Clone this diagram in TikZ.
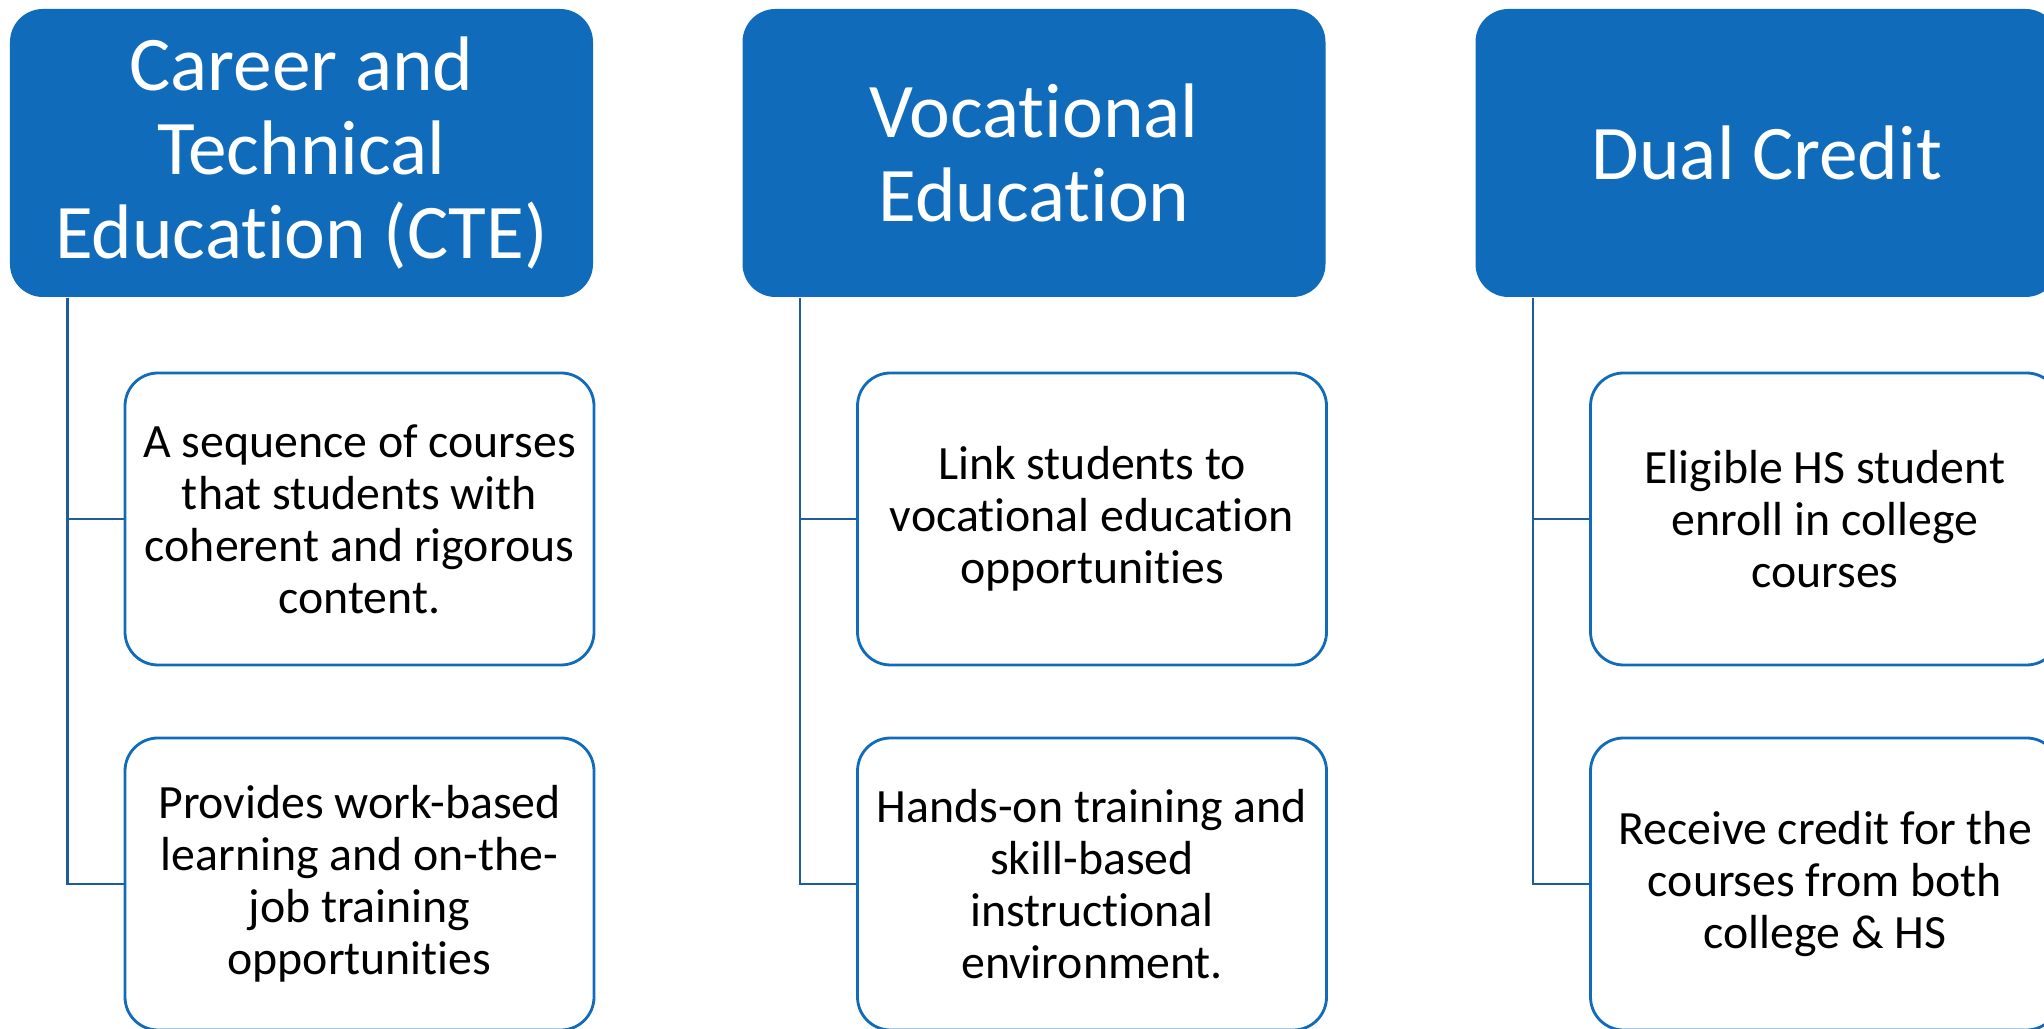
\documentclass[tikz,border=0pt]{standalone}
\usepackage{fontspec}
\setmainfont[Ligatures=NoCommon]{Carlito}
\usepackage{tikz}
\usetikzlibrary{positioning}
\definecolor{headblue}{RGB}{16,108,186}
\definecolor{linkblue}{RGB}{30,92,156}

\begin{document}
\begin{tikzpicture}[
    headbox/.style={draw=none, fill=headblue, rounded corners=0.33cm, text=white,
        minimum width=5.83cm, minimum height=2.88cm, align=center,
        font=\fontsize{22}{24}\selectfont},
    itembox/.style={draw=headblue, line width=0.8pt, fill=white, rounded corners=0.33cm,
        minimum width=4.69cm, minimum height=2.92cm, align=center,
        font=\fontsize{13.6}{14.8}\selectfont},
    link/.style={draw=linkblue, line width=0.7pt}
]
\useasboundingbox (0, 0) rectangle (20.44, -10.29);
\clip (0, 0) rectangle (20.44, -10.29);
% headers
\node[headbox] (cte) at (3.015, -1.53) {Career and\\Technical\\Education (CTE)};
\node[headbox] (voc) at (10.34, -1.53) {Vocational\\Education};
\node[headbox] (dual) at (17.67, -1.53) {Dual Credit};
% items
\node[itembox] (cteA) at (3.595, -5.19) {A sequence of courses\\that students with\\coherent and rigorous\\content.};
\node[itembox] (cteB) at (3.595, -8.84) {Provides work-based\\learning and on-the-\\job training\\opportunities};
\node[itembox] (vocA) at (10.92, -5.19) {Link students to\\vocational education\\opportunities};
\node[itembox] (vocB) at (10.92, -8.84) {Hands-on training and\\skill-based\\instructional\\environment.};
\node[itembox] (dualA) at (18.25, -5.19) {Eligible HS student\\enroll in college\\courses};
\node[itembox] (dualB) at (18.25, -8.84) {Receive credit for the\\courses from both\\college \& HS};
% links
\draw[link] ([xshift=0.58cm]cte.south west) |- (cteA.west);
\draw[link] ([xshift=0.58cm]cte.south west) |- (cteB.west);
\draw[link] ([xshift=0.58cm]voc.south west) |- (vocA.west);
\draw[link] ([xshift=0.58cm]voc.south west) |- (vocB.west);
\draw[link] ([xshift=0.58cm]dual.south west) |- (dualA.west);
\draw[link] ([xshift=0.58cm]dual.south west) |- (dualB.west);
\end{tikzpicture}
\end{document}
